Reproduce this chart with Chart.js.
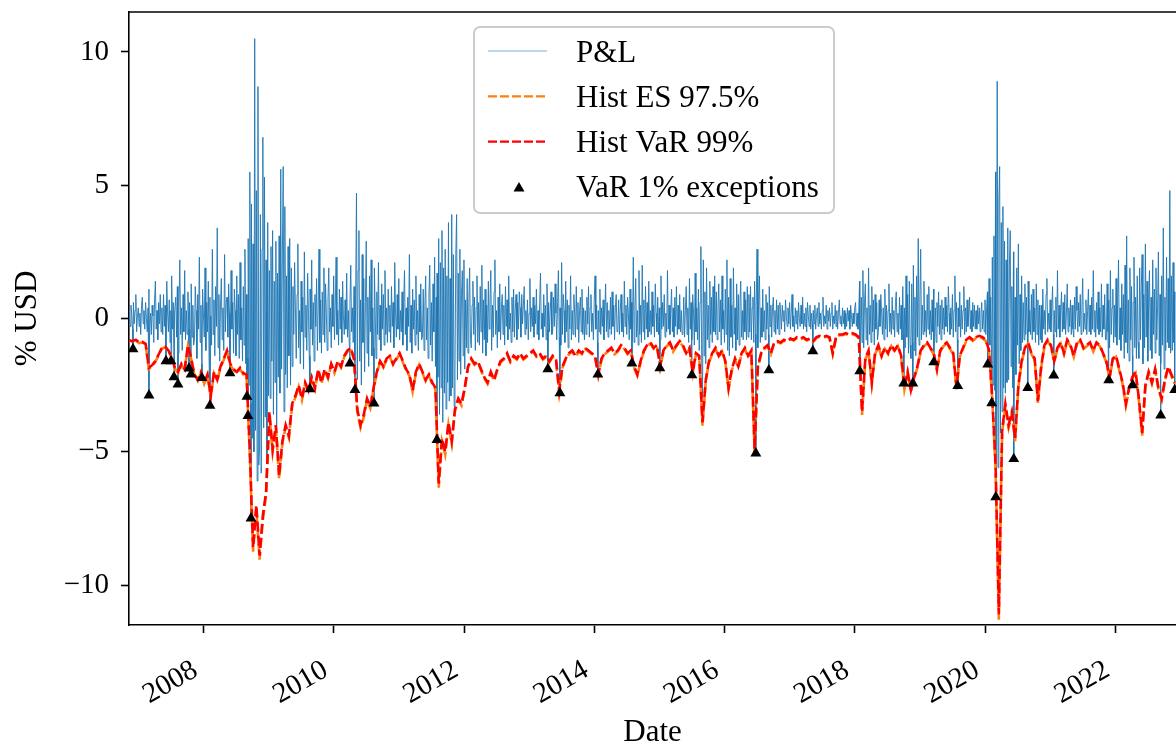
<!DOCTYPE html>
<html>
<head>
<meta charset="utf-8">
<title>Historical VaR / ES backtest</title>
<script src="https://cdn.jsdelivr.net/npm/chart.js@4.4.1/dist/chart.umd.min.js"></script>
<style>
  html, body { margin: 0; padding: 0; background: #fff; }
  canvas { display: block; }
</style>
</head>
<body>
<canvas id="varChart" width="1176" height="746"></canvas>
<script>
// axis ranges and ticks (x in decimal years)
var xMin = 2006.855, xMax = 2022.93;
var xTicks = [2008, 2010, 2012, 2014, 2016, 2018, 2020, 2022];
var yTicks = [-10, -5, 0, 5, 10];

// P&L, one value every 0.0125 year from pnlStart (one row = half a year)
var pnlStart = 2006.86, pnlStep = 0.0125;
var pnlValues = [
  0.2, -0.3, 0.5, 0.1, -0.4, 0.6, -0.2, 0.3, 0.9, -0.5, 0.1, 0.4, -0.3, 0.2, -0.6, 0.5, 0.8, -0.2, 0.3, -0.4,
  0.6, 0.0, -0.5, 0.4, 1.1, -0.3, 0.2, -0.6, 0.5, 0.1, -0.9, 0.7, 1.4, -0.4, 0.3, -0.8, 0.6, -0.2, 0.9, -0.5,
  0.4, -0.6, 0.9, -0.3, 0.5, -0.8, 1.4, 0.2, -0.5, 0.7, -0.9, 0.3, 1.6, -0.4, 0.6, -1.1, 0.2, 0.8, -0.7, 1.2,
  -1.3, 0.5, 2.2, -0.6, 0.4, -1.2, 0.9, -0.5, 1.8, -0.8, 0.3, -0.6, 1.0, -0.4, 0.6, -0.6, 1.3, -0.7, 0.5, -1.0,
  -0.8, 1.2, 0.3, -1.5, 0.9, -0.4, 2.3, -0.9, 0.5, -1.7, 1.1, 0.2, -0.7, 1.9, -1.2, 0.6, -0.5, 1.4, -1.6, 0.8,
  0.1, -1.0, 2.6, -0.6, 0.7, -1.4, 1.2, -0.3, 3.4, -1.1, 0.9, -1.6, 0.5, 1.5, -0.8, 0.4, -1.2, 2.4, -0.5, 0.6,
  0.8, -0.7, 1.3, 0.2, -0.9, 1.8, -0.4, 0.6, -1.3, 1.1, 0.3, -1.4, 1.6, -0.6, 0.9, -1.5, 2.1, -0.8, 0.4, -1.6,
  1.2, -1.0, 2.6, -1.7, 0.9, -1.5, 3.0, -2.5, 5.5, -3.2, 4.3, -4.5, 2.8, -5.0, 10.5, -4.2, 4.8, -6.1, 8.7, -5.5,
  -4.8, 3.9, -5.8, 2.6, 6.8, -4.1, 5.3, -3.7, 2.2, -5.2, 3.6, -2.9, 1.8, -3.0, 2.7, -1.6, 3.3, -3.6, 1.4, -2.4,
  2.9, -4.0, 1.7, -2.2, 3.1, -2.8, 5.6, -1.9, 2.4, 5.7, -3.5, 4.2, -2.1, 1.6, -2.6, 2.7, -1.4, 3.0, -2.5, 1.9,
  -1.8, 1.2, -0.6, 2.1, 0.4, -1.5, 0.9, 2.8, -1.1, 0.3, -1.7, 1.4, -0.5, 0.8, -1.9, 2.5, -0.7, 0.5, -1.2, 1.7,
  0.2, -1.4, 1.1, -0.4, 2.2, -1.0, 0.6, -1.6, 0.9, -0.3, 1.5, -1.2, 0.4, 2.6, -0.9, 0.7, -1.3, 1.0, -0.6, 1.9,
  -0.9, 1.3, 0.2, -1.2, 0.7, 1.9, -0.5, 0.4, -1.1, 0.9, -0.3, 1.6, -0.8, 0.5, 2.3, -0.6, 0.3, -1.0, 1.1, -0.4,
  0.8, -0.9, 1.4, 0.1, -0.6, 0.7, -0.4, 1.7, -0.7, 0.3, -0.8, 0.6, 2.0, -0.5, 0.4, -0.9, 1.2, -1.0, 0.9, 4.7,
  -2.3, 1.8, 3.3, -1.6, 0.7, -2.5, 2.4, -0.9, 1.5, -2.0, 0.6, 2.9, -1.3, 0.8, -1.8, 1.6, -0.5, 2.2, -1.4, 0.4,
  -1.1, 1.9, 0.3, -1.5, 1.0, -0.6, 2.1, -0.8, 0.5, -1.2, 1.3, -0.4, 0.9, -1.0, 1.8, -0.6, 0.4, -0.9, 1.1, -0.5,
  0.5, -0.9, 1.2, -0.3, 0.6, -1.1, 2.1, 0.2, -0.7, 0.9, -0.4, 1.5, -0.8, 0.3, -0.5, 1.0, -1.0, 0.6, 1.8, -0.6,
  0.4, -1.2, 0.8, -0.3, 2.4, -0.9, 0.5, -1.3, 1.1, -0.4, 0.7, -1.0, 1.6, -0.6, 0.3, -1.2, 0.9, -0.5, 1.3, -0.8,
  -0.7, 1.1, -1.2, 0.5, 1.6, -0.8, 0.4, -1.5, 0.9, 2.0, -1.0, 0.6, -1.6, 1.3, -0.5, 2.3, -1.8, 0.8, 1.7, -2.2,
  3.0, -3.6, 2.1, -2.6, 3.3, -3.9, 1.9, -2.8, 2.6, -3.4, 1.6, -2.4, 3.6, -3.1, 1.5, -2.9, 3.9, -2.6, 2.4, -3.3,
  -2.0, 2.4, 3.9, -2.3, 1.7, -1.6, 2.6, -2.1, 0.9, 1.8, -1.4, 2.2, -1.9, 0.7, -1.1, 1.5, -1.3, 0.6, 1.9, -0.8,
  -1.1, 0.5, 1.4, -0.6, 0.8, -1.2, 0.4, 1.6, -0.9, 0.6, -1.0, 1.2, -0.5, 2.0, -1.3, 0.7, -0.8, 1.1, -1.4, 0.5,
  -0.9, 1.4, -0.4, 0.6, 1.8, -1.2, 0.5, -0.7, 1.0, 2.2, -0.6, 0.3, -1.1, 0.8, -0.5, 1.3, -0.8, 0.4, 0.9, -0.6,
  0.5, -1.0, 1.2, -0.3, 0.7, -0.8, 1.6, -0.4, 0.2, -0.9, 0.8, -0.5, 1.1, -0.7, 0.3, 0.9, -0.8, 0.6, -0.4, 1.0,
  0.4, -0.7, 0.9, -0.2, 0.5, 1.2, -0.6, 0.3, -0.4, 0.7, -0.8, 0.2, 1.5, -0.5, 0.4, -0.3, 0.8, -0.7, 0.5, -0.2,
  1.1, -0.6, 0.3, -0.8, 0.6, 1.7, -0.4, 0.2, -0.7, 0.9, -0.3, 0.5, -0.8, 1.3, -0.4, 0.6, -0.5, 0.3, 1.0, -0.6,
  -0.5, 0.8, -0.3, 1.3, 0.2, -0.8, 0.6, 1.8, -0.7, 0.4, -1.0, 2.1, -0.6, 0.9, 0.3, -0.9, 1.4, -0.5, 0.7, -1.1,
  0.5, -0.4, 1.6, -0.8, 0.3, -0.6, 0.9, 0.2, -0.7, 1.2, -0.4, 0.6, -0.9, 0.3, 0.8, -0.5, 1.1, -0.6, 0.4, -0.8,
  0.3, -0.6, 0.8, -0.2, 1.2, -0.7, 0.4, 0.9, -0.5, 0.2, -0.8, 0.6, 1.6, -0.4, 0.5, -0.9, 0.3, -0.5, 1.1, -0.6,
  0.4, -0.3, 0.7, -0.8, 0.2, 1.3, -0.5, 0.6, -0.7, 0.3, -0.4, 0.8, -0.6, 1.0, -0.3, 0.5, -0.8, 0.4, 0.9, -0.5,
  -0.4, 0.7, -0.6, 0.3, 0.9, -0.5, 0.2, -0.7, 1.4, -0.3, 0.5, -0.6, 0.8, 0.2, -0.8, 1.1, -0.4, 0.6, -0.5, 2.3,
  -0.9, 0.4, 1.5, -0.7, 0.3, -1.0, 1.8, -0.6, 0.5, -0.9, 2.0, -0.5, 0.7, -0.8, 1.2, -0.4, 0.6, -0.7, 1.4, -0.5,
  0.3, -0.6, 1.0, -0.3, 0.5, -0.7, 1.3, 0.2, -0.5, 0.8, -0.6, 0.4, -0.8, 1.6, -0.4, 0.6, -0.3, 0.9, -0.7, 0.2,
  -0.5, 1.8, -0.4, 0.5, -0.6, 0.3, 1.1, -0.5, 0.4, -0.7, 0.8, -0.3, 1.2, -0.6, 0.5, -0.4, 0.9, -0.5, 0.3, -0.6,
  -0.5, 0.8, -0.7, 0.3, 1.2, -0.6, 0.4, -0.9, 1.5, -0.4, 0.6, -0.8, 0.9, 0.2, -1.0, 1.7, -0.5, 0.4, -0.8, 1.1,
  -1.2, 0.6, 2.7, -1.5, -3.0, 2.2, -1.4, 1.0, -1.7, 1.9, -0.8, 0.5, -1.1, 1.4, -0.6, 0.8, -0.9, 1.2, -0.5, 1.6,
  -0.6, 1.0, -0.8, 0.4, 1.3, -0.5, 0.7, -1.0, 1.6, -0.4, 0.3, -0.9, 1.1, -0.6, 2.2, -1.2, 0.8, -1.4, 1.5, -0.7,
  0.5, -1.1, 1.9, -0.6, 0.4, -1.2, 1.3, -0.8, 0.9, -1.0, 0.6, 1.4, -0.7, 0.3, -0.8, 1.0, -0.5, 0.7, -0.8, 1.2,
  -0.7, 0.9, -0.5, 1.2, -0.8, 0.4, 0.8, -0.9, 1.4, -0.6, 0.5, 2.6, -1.1, 0.7, 1.6, -0.9, 0.4, -0.7, 1.1, -0.5,
  0.3, -0.8, 0.9, -0.4, 0.6, -0.6, 1.2, -0.3, 0.5, -0.7, 0.4, 0.8, -0.5, 0.3, -0.6, 0.7, -0.4, 0.5, -0.6, 0.6,
  0.2, -0.4, 0.5, -0.1, 0.3, -0.5, 0.7, 0.1, -0.3, 0.4, -0.2, 0.6, -0.4, 0.2, 0.9, -0.3, 0.1, -0.5, 0.4, -0.2,
  0.3, -0.4, 0.6, 0.0, -0.3, 0.5, -0.2, 0.8, -0.4, 0.2, -0.3, 0.4, -0.5, 0.6, 0.1, -0.3, 0.5, -0.4, 0.2, -0.2,
  0.3, -0.2, 0.5, -0.4, 0.1, 0.4, -0.3, 0.6, -0.2, 0.2, -0.4, 0.3, 0.8, -0.3, 0.1, -0.2, 0.5, -0.4, 0.3, -0.1,
  0.4, -0.3, 0.2, 0.6, -0.4, 0.1, -0.2, 0.5, -0.3, 0.3, -0.4, 0.2, 0.7, -0.2, 0.1, -0.3, 0.4, -0.2, 0.3, -0.4,
  0.2, -0.3, 0.4, -0.1, 0.3, -0.4, 0.5, 0.1, -0.3, 0.2, -0.2, 0.4, 0.6, -0.3, 0.2, -0.4, 0.3, 1.4, -1.2, 0.8,
  -0.9, 1.8, -1.1, 0.6, 1.3, -0.8, 0.4, -1.0, 1.9, -0.6, 0.5, -0.9, 1.2, -0.5, 0.7, -1.0, 0.9, -0.4, 0.6, -0.8,
  -0.5, 0.7, -0.3, 0.9, 0.2, -0.6, 0.4, -0.8, 1.1, -0.4, 0.5, -0.7, 0.3, 1.3, -0.5, 0.2, -0.6, 0.8, -0.4, 0.3,
  -0.7, 0.6, 1.0, -0.5, 0.2, -0.6, 0.8, -0.4, 0.5, -0.8, 1.2, -0.6, 0.4, -1.1, 1.6, -0.7, 0.9, -1.3, 1.4, -1.0,
  -1.5, 1.3, -0.9, 2.0, -1.2, 0.8, -1.4, 1.6, -0.7, 3.0, -1.0, 0.6, 2.6, -0.8, 0.5, -0.6, 1.4, -0.5, 0.3, -0.7,
  0.9, -0.4, 1.2, -0.6, 0.3, -0.8, 0.7, -0.5, 1.1, -0.7, 0.4, -0.9, 0.6, -0.3, 1.0, -0.6, 0.5, -0.8, 0.7, -0.4,
  0.4, -0.6, 0.8, -0.3, 0.5, -0.5, 1.2, 0.2, -0.6, 0.4, -0.4, 0.9, -0.7, 0.3, 1.6, -0.5, 0.6, -0.8, 0.4, -0.3,
  1.0, -0.7, 0.5, -0.4, 0.3, 1.2, -0.6, 0.4, -0.5, 0.7, -0.3, 0.2, 0.8, -0.4, 0.3, -0.5, 0.6, -0.3, 0.5, -0.4,
  0.3, -0.4, 0.5, -0.2, 0.4, -0.5, 0.2, 0.6, -0.4, 0.3, -0.5, 0.7, -0.6, 0.4, 1.0, -0.7, 1.5, -1.0, 0.8, -1.6,
  2.3, -2.5, 3.1, -2.7, 5.5, -4.8, 8.9, -5.6, 4.4, 5.7, -4.3, 3.6, -3.5, 4.2, -2.6, 2.9, -2.8, 2.2, -2.4, 3.4,
  -2.3, 2.0, 3.3, -1.8, 1.2, -2.6, 2.5, -1.4, 0.8, -2.1, 1.9, -1.0, 2.8, -1.7, 0.9, -1.2, 1.6, -0.9, 0.6, -0.8,
  1.3, -0.6, 0.8, -0.4, 1.4, -0.5, 0.3, -0.6, 0.9, -0.8, 1.1, -0.5, 0.4, -0.9, 1.3, -0.6, 0.7, -1.0, 0.5, -0.8,
  0.5, -0.9, 1.1, -0.4, 0.3, -0.6, 0.9, 1.5, -0.5, 0.2, -0.4, 0.7, -0.5, 0.4, 1.2, -0.6, 0.3, -0.5, 0.8, -0.7,
  1.8, -0.4, 0.5, -0.7, 0.3, 1.0, -0.5, 0.6, -0.4, 0.9, -0.6, 0.2, 1.3, -0.5, 0.4, -0.3, 0.7, -0.6, 0.5, -0.4,
  -0.7, 0.8, -0.4, 1.2, 0.3, -0.5, 0.6, -0.3, 0.9, -0.6, 0.4, 1.5, -0.5, 0.2, -0.4, 0.7, -0.6, 0.3, 1.1, -0.5,
  0.5, -0.6, 0.8, -0.4, 1.8, -0.5, 0.3, -0.7, 0.6, -0.4, 1.0, -0.6, 0.4, -0.5, 1.3, -0.7, 0.5, -0.4, 0.9, -0.8,
  -0.8, 1.3, -0.5, 0.7, -1.1, 1.8, -0.6, 0.4, 1.1, -0.9, 0.5, -0.7, 1.5, -1.0, 0.6, 2.2, -0.8, 0.4, -1.2, 1.3,
  -0.6, 0.9, -1.5, 2.0, -0.9, 3.1, -1.3, 0.7, -1.6, 1.9, -0.8, 1.2, -1.4, 0.6, 2.3, -1.1, 0.8, -1.5, 1.6, -0.9,
  -1.5, 1.9, -0.8, 1.2, 2.4, -1.7, 0.9, -1.1, 2.8, -0.7, 1.4, -1.6, 0.6, 1.8, -1.2, 0.8, -1.5, 2.2, -0.6, 1.1,
  -1.3, 1.9, -0.8, 0.5, 2.5, -1.4, 0.9, -1.7, 1.6, -1.0, 3.4, -1.9, 0.8, -1.2, 2.3, -0.9, 1.5, -1.1, 4.8, -1.3,
  1.6, -1.2, 2.1, -0.9, 1.0
];

// rolling historical VaR 99% and ES 97.5%, every 0.05 year from riskStart
var riskStart = 2006.86, riskStep = 0.05;
var varValues = [
  -0.82, -0.85, -0.80, -0.90, -0.88, -0.95, -1.85, -1.75, -1.60, -1.35, -1.10, -1.05, -1.20, -1.45, -1.85, -2.00, -1.70, -1.90, -1.00, -1.50,
  -2.10, -2.30, -2.00, -2.40, -2.10, -2.90, -2.00, -2.30, -1.80, -1.50, -1.20, -1.70, -1.90, -2.00, -1.85, -2.05, -2.10, -5.00, -8.60, -7.00,
  -8.90, -7.40, -6.50, -3.50, -4.90, -4.00, -5.90, -4.60, -4.00, -4.40, -3.20, -2.90, -2.50, -3.00, -2.40, -2.70, -2.20, -2.60, -1.90, -2.40,
  -1.90, -2.20, -1.70, -2.00, -1.60, -1.80, -1.40, -1.20, -1.10, -1.50, -3.40, -4.00, -3.60, -3.00, -3.30, -2.60, -2.00, -1.60, -1.80, -1.50,
  -1.40, -1.70, -1.50, -1.30, -1.60, -1.90, -2.10, -2.70, -2.00, -1.70, -2.00, -2.30, -2.10, -2.40, -2.60, -6.20, -4.50, -5.00, -3.90, -4.60,
  -3.40, -3.00, -3.20, -2.60, -1.80, -1.50, -1.70, -1.60, -1.90, -2.20, -2.40, -2.00, -2.30, -1.90, -1.60, -1.50, -1.30, -1.60, -1.40, -1.50,
  -1.30, -1.50, -1.40, -1.30, -1.20, -1.40, -1.30, -1.50, -1.40, -1.60, -1.40, -1.50, -2.70, -1.80, -1.50, -1.30, -1.20, -1.40, -1.20, -1.30,
  -1.10, -1.20, -1.30, -1.40, -2.10, -1.50, -1.30, -1.20, -1.10, -1.30, -1.20, -1.00, -1.10, -1.30, -1.20, -1.80, -2.10, -1.60, -1.20, -1.00,
  -0.90, -1.10, -1.00, -1.80, -1.20, -1.00, -0.90, -1.20, -1.00, -0.85, -1.00, -1.30, -1.10, -2.00, -1.30, -1.40, -3.90, -2.30, -1.60, -1.30,
  -1.10, -1.40, -1.20, -1.60, -2.60, -1.90, -1.50, -1.80, -1.30, -1.10, -1.40, -1.20, -4.90, -1.80, -1.30, -1.10, -1.00, -1.30, -0.90, -0.85,
  -0.90, -0.80, -0.85, -0.75, -0.80, -0.70, -0.75, -0.70, -0.80, -0.75, -0.85, -0.70, -0.65, -0.70, -0.65, -0.70, -1.30, -0.70, -0.60, -0.60,
  -0.55, -0.60, -0.55, -0.60, -0.70, -3.50, -1.50, -1.20, -2.40, -1.30, -1.00, -1.40, -1.10, -1.30, -1.00, -1.20, -1.00, -1.40, -2.60, -2.00,
  -2.70, -2.20, -1.80, -1.20, -1.00, -0.90, -1.10, -1.30, -1.90, -1.20, -1.00, -0.90, -1.10, -1.30, -2.60, -1.40, -1.10, -0.80, -0.70, -0.80,
  -0.70, -0.65, -0.70, -0.80, -1.20, -3.00, -5.50, -11.10, -4.20, -3.20, -4.00, -3.50, -4.50, -2.50, -1.60, -1.10, -0.90, -1.30, -1.50, -3.10,
  -1.80, -1.00, -0.80, -1.00, -1.60, -1.10, -0.90, -1.30, -0.80, -1.00, -1.40, -0.90, -0.80, -1.10, -1.00, -0.90, -1.20, -0.90, -1.00, -1.30,
  -1.60, -2.20, -1.50, -1.40, -1.90, -2.40, -3.20, -2.60, -2.20, -2.00, -3.00, -4.30, -2.50, -2.00, -2.40, -1.90, -2.60, -3.00, -2.30, -1.80, -2.10, -2.40
];
var esValues = [
  -0.84, -0.86, -0.83, -0.92, -0.90, -0.97, -1.90, -1.80, -1.63, -1.38, -1.13, -1.08, -1.22, -1.48, -1.88, -2.05, -1.74, -1.93, -1.04, -1.53,
  -2.14, -2.34, -2.05, -2.45, -2.15, -2.95, -2.06, -2.34, -1.84, -1.55, -1.24, -1.74, -1.94, -2.05, -1.90, -2.10, -2.15, -5.10, -8.75, -7.15,
  -9.05, -7.55, -6.62, -3.58, -5.00, -4.08, -6.02, -4.68, -4.08, -4.48, -3.28, -2.96, -2.56, -3.06, -2.45, -2.75, -2.25, -2.65, -1.95, -2.45,
  -1.95, -2.25, -1.74, -2.05, -1.64, -1.84, -1.44, -1.24, -1.14, -1.55, -3.50, -4.10, -3.70, -3.06, -3.36, -2.65, -2.05, -1.64, -1.84, -1.54,
  -1.44, -1.74, -1.54, -1.34, -1.64, -1.95, -2.15, -2.75, -2.05, -1.74, -2.05, -2.35, -2.15, -2.45, -2.66, -6.35, -4.60, -5.10, -3.98, -4.70,
  -3.48, -3.06, -3.26, -2.65, -1.84, -1.54, -1.74, -1.64, -1.95, -2.25, -2.45, -2.05, -2.35, -1.94, -1.64, -1.54, -1.34, -1.64, -1.44, -1.54,
  -1.34, -1.54, -1.44, -1.34, -1.24, -1.44, -1.34, -1.54, -1.44, -1.64, -1.44, -1.54, -2.78, -1.85, -1.54, -1.34, -1.24, -1.44, -1.24, -1.34,
  -1.14, -1.24, -1.34, -1.44, -2.16, -1.54, -1.34, -1.24, -1.14, -1.34, -1.24, -1.04, -1.14, -1.34, -1.24, -1.85, -2.15, -1.64, -1.24, -1.04,
  -0.94, -1.14, -1.04, -1.85, -1.24, -1.04, -0.94, -1.24, -1.04, -0.89, -1.04, -1.34, -1.14, -2.06, -1.34, -1.44, -4.02, -2.36, -1.64, -1.34,
  -1.14, -1.44, -1.24, -1.64, -2.66, -1.95, -1.54, -1.84, -1.34, -1.14, -1.44, -1.24, -5.02, -1.85, -1.34, -1.14, -1.04, -1.34, -0.94, -0.89,
  -0.93, -0.83, -0.88, -0.78, -0.83, -0.73, -0.78, -0.73, -0.83, -0.78, -0.88, -0.73, -0.68, -0.73, -0.68, -0.73, -1.34, -0.73, -0.63, -0.63,
  -0.58, -0.63, -0.58, -0.63, -0.73, -3.62, -1.54, -1.24, -2.46, -1.34, -1.04, -1.44, -1.14, -1.34, -1.04, -1.24, -1.04, -1.44, -2.66, -2.05,
  -2.76, -2.25, -1.84, -1.24, -1.04, -0.94, -1.14, -1.34, -1.95, -1.24, -1.04, -0.94, -1.14, -1.34, -2.66, -1.44, -1.14, -0.84, -0.74, -0.84,
  -0.74, -0.69, -0.74, -0.84, -1.24, -3.08, -5.65, -11.30, -4.30, -3.28, -4.10, -3.58, -4.60, -2.56, -1.64, -1.14, -0.94, -1.34, -1.54, -3.18,
  -1.85, -1.04, -0.84, -1.04, -1.64, -1.14, -0.94, -1.34, -0.84, -1.04, -1.44, -0.94, -0.84, -1.14, -1.04, -0.94, -1.24, -0.94, -1.04, -1.34,
  -1.64, -2.25, -1.54, -1.44, -1.95, -2.46, -3.28, -2.66, -2.25, -2.05, -3.08, -4.40, -2.56, -2.05, -2.45, -1.94, -2.66, -3.06, -2.35, -1.84, -2.15, -2.45
];

// days where the loss broke through the 99% VaR
var exceptionDates = [
  2006.916, 2007.162, 2007.423, 2007.500, 2007.546, 2007.607, 2007.776, 2007.807, 2007.975, 2008.098,
  2008.405, 2008.666, 2008.682, 2008.728, 2009.633, 2010.247, 2010.324, 2010.616, 2011.583, 2013.286,
  2013.471, 2014.054, 2014.576, 2015.005, 2015.497, 2016.479, 2016.679, 2017.354, 2018.075, 2018.751,
  2018.889, 2019.211, 2019.579, 2020.040, 2020.101, 2020.163, 2020.439, 2020.654, 2021.053, 2021.897,
  2022.265, 2022.695, 2022.910
];
var exceptionValues = [
  -1.15, -2.88, -1.60, -1.60, -2.20, -2.47, -1.87, -2.10, -2.23, -3.27,
  -2.05, -2.93, -3.65, -7.50, -2.65, -1.68, -2.68, -3.18, -4.55, -1.90,
  -2.80, -2.10, -1.68, -1.86, -2.12, -5.06, -1.94, -1.22, -1.97, -2.43,
  -2.43, -1.64, -2.53, -1.72, -3.17, -6.70, -5.27, -2.60, -2.13, -2.31,
  -2.50, -3.63, -2.68
];

function series(start, step, values) {
  return values.map(function (v, i) { return { x: start + i * step, y: v }; });
}

var exceptionPoints = exceptionDates.map(function (d, i) { return { x: d, y: exceptionValues[i] }; });
// exception days are P&L days too, so the P&L line passes through them
var pnlPoints = series(pnlStart, pnlStep, pnlValues).concat(exceptionPoints)
  .sort(function (a, b) { return a.x - b.x; });
var varPoints = series(riskStart, riskStep, varValues);
var esPoints = series(riskStart, riskStep, esValues);

var serif = "'Liberation Serif', 'Times New Roman', serif";
Chart.defaults.font.family = serif;
Chart.defaults.font.size = 29;
Chart.defaults.color = '#000';

// matplotlib-like top spine plus a framed legend inside the plot
var frameAndLegend = {
  id: 'frameAndLegend',
  afterDraw: function (chart) {
    var c = chart.ctx, a = chart.chartArea;
    c.save();
    c.strokeStyle = '#000';
    c.lineWidth = 1.6;
    c.beginPath();
    c.moveTo(a.left - 0.8, a.top);
    c.lineTo(a.right, a.top);
    c.stroke();

    c.fillStyle = 'rgba(255,255,255,0.8)';
    c.strokeStyle = '#cccccc';
    c.lineWidth = 2;
    c.beginPath();
    c.roundRect(474, 27, 360, 186, 6);
    c.fill();
    c.stroke();

    var ds = chart.data.datasets;
    var entries = [ds[3], ds[2], ds[1], ds[0]];
    c.font = '31px ' + serif;
    c.textBaseline = 'alphabetic';
    entries.forEach(function (d, i) {
      var cy = 51 + i * 45.3;
      if (d.showLine === false) {
        c.fillStyle = '#000';
        c.beginPath();
        c.moveTo(519, cy - 5);
        c.lineTo(524.5, cy + 4.5);
        c.lineTo(513.5, cy + 4.5);
        c.closePath();
        c.fill();
      } else {
        c.strokeStyle = d.borderDash ? d.borderColor : '#7fadd3';
        c.lineWidth = d.borderDash ? 2.2 : 1;
        c.setLineDash(d.borderDash ? [9, 3] : []);
        c.beginPath();
        c.moveTo(488, cy);
        c.lineTo(547, cy);
        c.stroke();
        c.setLineDash([]);
      }
      c.fillStyle = '#000';
      c.fillText(d.label, 576, cy + 10.5);
    });
    c.restore();
  }
};

var ctx = document.getElementById('varChart').getContext('2d');
var varChart = new Chart(ctx, {
  type: 'line',
  data: {
    datasets: [{
      label: 'VaR 1% exceptions',
      data: exceptionPoints,
      showLine: false,
      pointStyle: 'triangle',
      pointRadius: 6.3,
      backgroundColor: '#000',
      borderColor: '#000',
      borderWidth: 0,
      order: 0
    },
    {
      label: 'Hist VaR 99%',
      data: varPoints,
      borderColor: '#ff0000',
      borderWidth: 2.6,
      borderDash: [10, 4],
      pointRadius: 0,
      order: 1
    },
    {
      label: 'Hist ES 97.5%',
      data: esPoints,
      borderColor: '#ff7f0e',
      borderWidth: 2.6,
      borderDash: [10, 4],
      borderDashOffset: 7,
      pointRadius: 0,
      order: 2
    },
    {
      label: 'P&L',
      data: pnlPoints,
      borderColor: 'rgba(31,119,180,0.9)',
      borderWidth: 1,
      pointRadius: 0,
      order: 3
    }
    ]
  },
  options: {
    responsive: false,
    animation: false,
    devicePixelRatio: 1,
    layout: { autoPadding: false, padding: { top: 12, left: 0, right: 0, bottom: 0 } },
    plugins: {
      legend: { display: false },
      tooltip: { enabled: false }
    },
    scales: {
      x: {
        type: 'linear',
        min: xMin,
        max: xMax,
        afterBuildTicks: function (scale) {
          scale.ticks = xTicks.map(function (v) { return { value: v }; });
        },
        afterFit: function (scale) {
          scale.height = 121;
          scale.paddingLeft = 0;
          scale.paddingRight = 0;
        },
        ticks: {
          autoSkip: false,
          minRotation: 30,
          maxRotation: 30,
          padding: 20,
          labelOffset: -8,
          callback: function (v) { return String(v); }
        },
        grid: { drawOnChartArea: false, tickLength: 8, tickColor: '#000', tickWidth: 1.6 },
        border: { color: '#000', width: 1.6 },
        title: {
          display: true,
          text: 'Date',
          font: { size: 31, lineHeight: 0.85 },
          padding: { top: 0, bottom: 0 }
        }
      },
      y: {
        min: -11.5,
        max: 11.5,
        afterBuildTicks: function (scale) {
          scale.ticks = yTicks.map(function (v) { return { value: v }; });
        },
        afterFit: function (scale) {
          scale.width = 129;
          scale.paddingTop = 0;
          scale.paddingBottom = 0;
        },
        ticks: {
          padding: 12,
          callback: function (v) { return String(v).replace('-', '\u2212'); }
        },
        grid: { drawOnChartArea: false, tickLength: 8, tickColor: '#000', tickWidth: 1.6 },
        border: { color: '#000', width: 1.6 },
        title: {
          display: true,
          text: '% USD',
          font: { size: 31 },
          padding: { top: 9, bottom: 0 }
        }
      }
    }
  },
  plugins: [frameAndLegend]
});
</script>
</body>
</html>
